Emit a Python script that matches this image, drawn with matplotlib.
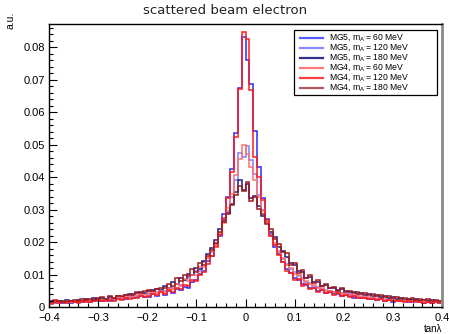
import numpy as np
import matplotlib
matplotlib.use("Agg")
import matplotlib.pyplot as plt
from matplotlib.ticker import MultipleLocator, FuncFormatter
from matplotlib.patches import Rectangle
from matplotlib.lines import Line2D

plt.rcParams['font.family'] = ['Liberation Sans', 'DejaVu Sans']
plt.rcParams['mathtext.default'] = 'regular'

# bin edges: 100 bins from -0.4 to 0.4
edges = np.linspace(-0.4, 0.4, 101)

labels = ["MG5, m$_{A'}$= 60 MeV", "MG5, m$_{A'}$= 120 MeV", "MG5, m$_{A'}$= 180 MeV",
          "MG4, m$_{A'}$= 60 MeV", "MG4, m$_{A'}$= 120 MeV", "MG4, m$_{A'}$= 180 MeV"]

mg5_60 = [.0014, .0011, .0015, .0012, .0016, .0013, .0018, .0014, .0015, .0019,
          .0016, .0021, .0017, .0019, .0024, .0020, .0022, .0028, .0024, .0026,
          .0031, .0027, .0030, .0034, .0032, .0030, .0041, .0033, .0045, .0038,
          .0050, .0042, .0056, .0052, .0062, .0060, .0078, .0082, .0101, .0112,
          .0142, .0158, .0194, .0218, .0285, .0338, .0425, .0537, .0673, .0830,
          .0761, .0687, .0541, .0430, .0335, .0272, .0226, .0186, .0163, .0137,
          .0116, .0106, .0088, .0083, .0070, .0068, .0058, .0060, .0050, .0051,
          .0043, .0045, .0039, .0040, .0035, .0036, .0034, .0029, .0031, .0027,
          .0028, .0024, .0026, .0022, .0025, .0020, .0021, .0016, .0020, .0017,
          .0018, .0015, .0017, .0014, .0016, .0013, .0015, .0012, .0014, .0011]

mg5_120 = [.0016, .0013, .0017, .0015, .0012, .0018, .0016, .0019, .0017, .0021,
           .0018, .0022, .0020, .0024, .0022, .0026, .0025, .0029, .0027, .0032,
           .0030, .0035, .0033, .0037, .0041, .0039, .0044, .0047, .0045, .0049,
           .0058, .0057, .0070, .0068, .0083, .0090, .0099, .0112, .0110, .0138,
           .0150, .0168, .0192, .0225, .0262, .0295, .0340, .0392, .0475, .0462,
           .0497, .0452, .0410, .0345, .0300, .0258, .0225, .0192, .0171, .0148,
           .0133, .0117, .0107, .0094, .0089, .0077, .0073, .0064, .0062, .0055,
           .0053, .0048, .0047, .0043, .0043, .0039, .0039, .0035, .0035, .0031,
           .0032, .0029, .0029, .0026, .0027, .0023, .0024, .0021, .0023, .0019,
           .0020, .0018, .0019, .0016, .0018, .0015, .0017, .0014, .0016, .0013]

mg5_180 = [.0019, .0015, .0020, .0017, .0021, .0018, .0016, .0022, .0020, .0024,
           .0021, .0027, .0024, .0029, .0026, .0031, .0028, .0034, .0032, .0036,
           .0040, .0037, .0043, .0046, .0044, .0050, .0052, .0055, .0053, .0066,
           .0060, .0077, .0071, .0090, .0082, .0101, .0098, .0119, .0118, .0142,
           .0162, .0182, .0205, .0240, .0268, .0290, .0318, .0355, .0390, .0360,
           .0380, .0335, .0342, .0310, .0280, .0262, .0232, .0214, .0186, .0172,
           .0155, .0136, .0128, .0110, .0107, .0090, .0092, .0078, .0076, .0066,
           .0067, .0057, .0060, .0052, .0056, .0048, .0045, .0047, .0041, .0043,
           .0037, .0039, .0033, .0036, .0030, .0033, .0027, .0031, .0025, .0028,
           .0023, .0026, .0021, .0024, .0019, .0023, .0018, .0021, .0017, .0020]

mg4_60 = [.0012, .0017, .0014, .0016, .0019, .0015, .0018, .0016, .0020, .0018,
          .0022, .0019, .0023, .0021, .0025, .0023, .0027, .0030, .0028, .0031,
          .0033, .0031, .0036, .0039, .0037, .0042, .0045, .0043, .0049, .0046,
          .0060, .0055, .0072, .0066, .0085, .0079, .0100, .0098, .0124, .0122,
          .0152, .0172, .0190, .0228, .0258, .0305, .0348, .0405, .0455, .0500,
          .0470, .0430, .0392, .0338, .0296, .0262, .0218, .0196, .0168, .0152,
          .0128, .0120, .0102, .0097, .0085, .0080, .0070, .0067, .0059, .0057,
          .0050, .0050, .0045, .0045, .0041, .0040, .0037, .0038, .0033, .0034,
          .0030, .0031, .0027, .0028, .0025, .0026, .0022, .0024, .0020, .0022,
          .0018, .0020, .0017, .0019, .0015, .0018, .0014, .0017, .0015, .0016]

mg4_120 = [.0010, .0016, .0012, .0014, .0011, .0017, .0015, .0013, .0019, .0016,
           .0014, .0018, .0021, .0018, .0020, .0023, .0019, .0025, .0022, .0027,
           .0025, .0029, .0028, .0033, .0031, .0033, .0040, .0036, .0045, .0041,
           .0052, .0046, .0058, .0055, .0068, .0065, .0082, .0079, .0098, .0108,
           .0132, .0158, .0185, .0222, .0275, .0335, .0415, .0523, .0670, .0845,
           .0826, .0667, .0462, .0400, .0330, .0268, .0220, .0190, .0160, .0138,
           .0112, .0104, .0084, .0085, .0066, .0070, .0055, .0059, .0047, .0051,
           .0042, .0046, .0037, .0042, .0034, .0038, .0031, .0033, .0029, .0028,
           .0027, .0024, .0026, .0022, .0024, .0019, .0021, .0020, .0017, .0019,
           .0016, .0018, .0014, .0017, .0015, .0013, .0016, .0012, .0014, .0013]

mg4_180 = [.0016, .0021, .0018, .0015, .0020, .0017, .0022, .0019, .0024, .0021,
           .0026, .0023, .0028, .0030, .0026, .0033, .0029, .0035, .0033, .0038,
           .0036, .0041, .0045, .0043, .0048, .0052, .0050, .0056, .0060, .0058,
           .0072, .0066, .0088, .0080, .0098, .0095, .0118, .0108, .0135, .0128,
           .0158, .0176, .0198, .0230, .0262, .0285, .0315, .0345, .0372, .0356,
           .0386, .0327, .0338, .0302, .0286, .0255, .0240, .0208, .0195, .0168,
           .0165, .0130, .0136, .0105, .0114, .0088, .0098, .0074, .0082, .0064,
           .0072, .0057, .0063, .0050, .0058, .0046, .0050, .0044, .0046, .0040,
           .0042, .0036, .0039, .0033, .0036, .0030, .0034, .0028, .0031, .0026,
           .0029, .0024, .0027, .0022, .0025, .0021, .0024, .0019, .0022, .0020]

series = [mg5_60, mg5_120, mg5_180, mg4_60, mg4_120, mg4_180]
for s in series:
    assert len(s) == 100

colors = ['#2a2aff', '#7f7fff', '#1c1c85', '#ff7070', '#ff1a1a', '#a01c1c']
legend_colors = ['#5a5aff', '#8a8aff', '#303090', '#ff7a7a', '#ff4040', '#b05a5a']

W, H = 449, 334
fig = plt.figure(figsize=(W / 100, H / 100), dpi=100)
ax = fig.add_axes([49 / W, 1 - 307 / H, (442 - 49) / W, (307 - 24) / H])

for vals, c in zip(series, colors):
    ax.stairs(vals, edges, color=c, lw=1.1, baseline=None)

ax.set_xlim(-0.4, 0.4)
ax.set_ylim(0, 0.0871)

ax.xaxis.set_major_locator(MultipleLocator(0.1))
ax.xaxis.set_minor_locator(MultipleLocator(0.02))
ax.yaxis.set_major_locator(MultipleLocator(0.01))
ax.yaxis.set_minor_locator(MultipleLocator(0.002))

def fmt(v, pos):
    if abs(v) < 1e-9:
        return '0'
    s = ('%.2f' % v).rstrip('0')
    return s.replace('-', '\u2212')

ax.xaxis.set_major_formatter(FuncFormatter(fmt))
ax.yaxis.set_major_formatter(FuncFormatter(fmt))

ax.tick_params(axis='both', which='both', direction='in', labelsize=8, colors='black')
ax.tick_params(axis='x', which='major', length=6, width=0.8, pad=4.5)
ax.tick_params(axis='x', which='minor', length=3, width=0.8)
ax.tick_params(axis='y', which='major', length=6, width=0.8, pad=3)
ax.tick_params(axis='y', which='minor', length=3, width=0.8)

for side in ['left', 'bottom', 'top']:
    ax.spines[side].set_color('black')
    ax.spines[side].set_linewidth(1.0)
ax.spines['right'].set_color('#8a8a8a')
ax.spines['right'].set_linewidth(2.0)

fig.text(225 / W, 1 - 11 / H, 'scattered beam electron', ha='center', va='center',
         fontsize=9.5, family='DejaVu Sans', color='#222222')
fig.text(10 / W, 1 - 12 / H, 'a.u.', rotation=90, ha='center', va='top', fontsize=7.5)
fig.text(442 / W, 1 - 329 / H, 'tan\u03bb', ha='right', va='center', fontsize=7)

# legend box (fixed size as in ROOT TLegend), entries placed row by row
fig.patches.append(Rectangle((294 / W, 1 - 95 / H), (437 - 294) / W, (95 - 30) / H,
                             transform=fig.transFigure, facecolor='white',
                             edgecolor='black', lw=0.9, zorder=5))
for i, (lab, c) in enumerate(zip(labels, legend_colors)):
    yrow = 1 - (37.7 + 10.0 * i) / H
    fig.add_artist(Line2D([300 / W, 323 / W], [yrow, yrow], transform=fig.transFigure,
                          color=c, lw=1.6, zorder=6))
    fig.text(329 / W, yrow, lab, ha='left', va='center', fontsize=6.2, zorder=6)

fig.savefig('out.png', dpi=100)
